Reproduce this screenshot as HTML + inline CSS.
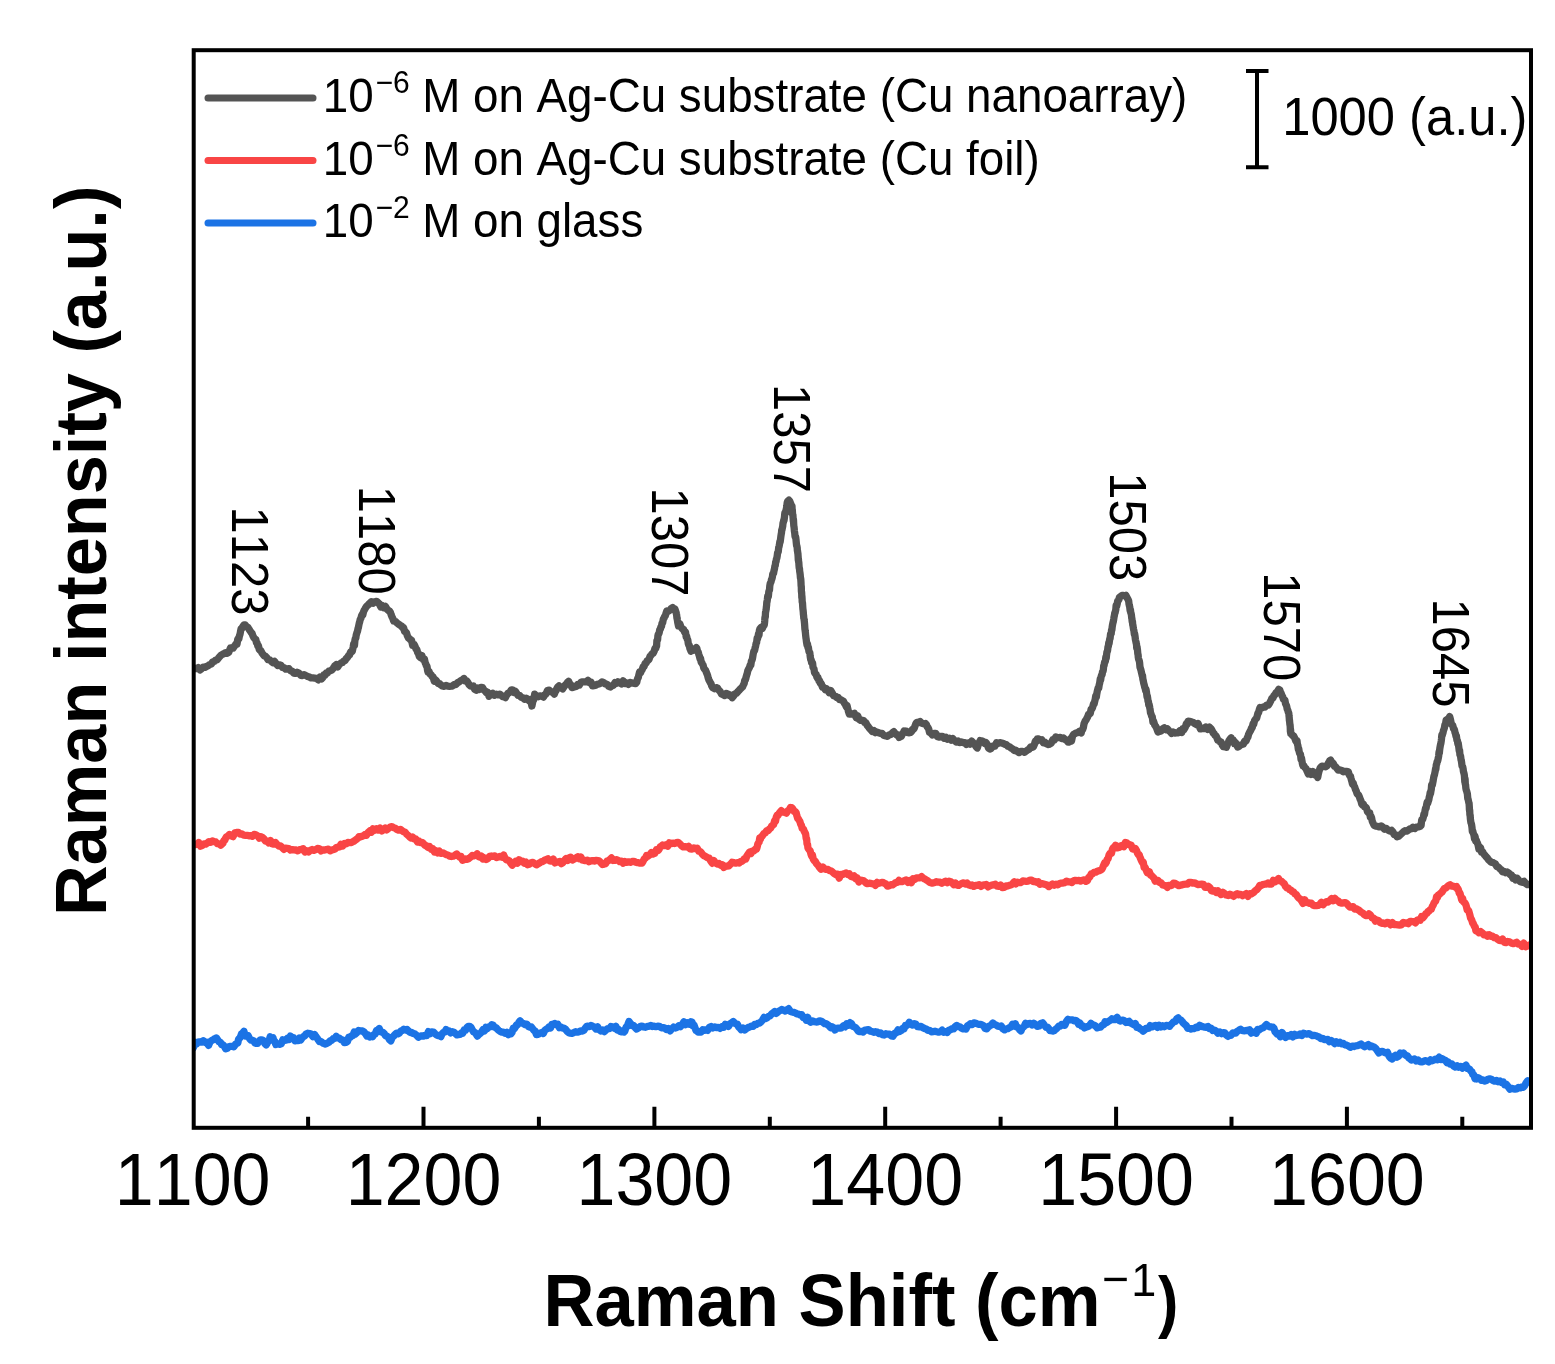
<!DOCTYPE html>
<html><head><meta charset="utf-8"><title>Raman spectra</title>
<style>
html,body{margin:0;padding:0;background:#fff;}
svg{display:block;filter:blur(0.45px);}
text{font-family:'Liberation Sans', Arial, sans-serif;fill:#000;font-kerning:none;}
</style></head><body>
<svg width="1555" height="1364" viewBox="0 0 1555 1364">
<rect width="1555" height="1364" fill="#fff"/>

<defs><clipPath id="pc"><rect x="193.7" y="50.2" width="1337.3" height="1077.6"/></clipPath></defs>
<g fill="none" stroke-width="7.3" stroke-linejoin="round" stroke-linecap="round" clip-path="url(#pc)">
<polyline stroke="#545454" points="193.0,667.6 194.7,668.5 196.5,668.6 198.2,667.6 199.9,669.9 201.6,668.7 203.2,667.1 204.8,667.4 206.5,666.5 208.1,665.7 209.7,664.6 211.2,664.1 212.7,661.9 214.2,661.4 215.7,660.1 217.0,659.9 218.4,658.2 219.7,656.7 221.1,655.1 222.4,654.4 224.0,653.7 225.6,652.7 227.2,653.3 228.8,652.2 230.4,648.0 232.0,648.0 233.1,648.2 234.1,646.4 235.1,645.5 236.0,643.9 237.0,644.1 237.7,639.6 238.2,638.5 238.8,639.0 239.4,636.0 240.0,634.3 240.5,631.6 241.1,628.8 241.7,628.8 242.4,627.2 243.9,624.9 245.3,625.0 246.6,626.9 247.9,627.4 249.1,629.4 250.2,631.0 251.2,632.5 252.1,633.5 253.0,636.1 254.0,637.9 254.9,638.9 255.8,639.4 256.4,642.5 257.1,643.1 257.8,646.0 258.5,645.9 259.2,649.3 259.9,650.1 260.7,650.6 261.9,652.8 263.1,654.5 264.3,656.0 265.5,656.3 266.7,657.5 268.1,659.7 269.7,659.9 271.3,661.4 272.9,662.7 274.5,661.3 276.1,663.8 277.7,665.5 279.4,664.9 281.0,665.3 282.6,667.5 284.2,667.8 285.8,669.2 287.4,668.9 289.0,668.7 290.6,670.7 292.2,671.2 293.8,673.1 295.4,673.4 297.1,672.3 298.9,673.1 300.7,675.3 302.4,675.5 304.2,674.6 306.0,675.6 307.7,676.5 309.4,677.0 311.1,677.9 312.9,677.9 314.6,678.1 316.3,678.3 318.1,679.8 319.9,677.1 321.5,678.9 322.7,677.7 323.8,675.0 325.0,675.2 326.2,673.0 327.4,673.1 328.9,671.1 330.3,670.7 331.7,670.1 333.2,668.3 334.6,666.1 336.2,664.7 337.8,666.8 339.4,664.3 341.0,663.0 342.4,662.6 343.7,661.0 345.0,660.7 346.2,658.7 347.5,657.4 348.7,655.4 349.6,654.9 350.5,652.0 351.4,652.0 352.3,651.2 353.2,646.9 353.6,644.3 354.1,645.3 354.5,645.3 354.9,640.4 355.3,638.4 355.8,638.3 356.2,635.3 356.6,633.8 357.1,632.2 357.5,631.3 358.0,628.7 358.4,627.5 358.8,625.4 359.3,623.0 359.7,621.8 360.2,619.5 360.8,618.6 361.5,616.0 362.2,614.3 362.8,614.9 363.5,611.9 364.2,610.2 364.9,609.1 366.1,606.9 367.2,605.7 368.3,604.9 369.5,603.4 371.3,601.8 373.1,603.3 374.9,601.7 376.6,601.3 378.0,602.5 379.4,604.1 380.8,607.0 382.2,605.6 383.8,607.6 385.4,606.4 387.0,609.1 388.6,610.7 389.6,611.1 390.4,612.4 391.2,614.8 392.0,616.8 392.8,618.4 393.7,621.2 394.5,621.2 395.7,621.7 397.2,623.1 398.7,624.2 400.2,625.3 401.7,626.2 402.7,627.9 403.6,627.7 404.6,631.5 405.5,631.8 406.5,632.8 407.4,635.9 408.5,638.0 409.5,638.7 410.5,639.9 411.6,640.4 412.6,645.3 413.6,645.0 414.4,644.8 415.2,646.7 416.0,649.1 416.8,649.3 417.6,652.4 418.4,653.5 419.3,656.5 420.6,657.6 421.9,655.5 423.1,659.3 424.4,659.1 425.3,663.1 425.8,663.9 426.4,666.0 427.0,666.2 427.6,670.5 428.1,672.4 428.9,671.2 430.0,674.0 431.0,674.5 432.1,676.5 433.1,676.9 434.2,681.2 435.5,679.8 436.9,681.6 438.3,683.5 439.6,683.6 441.0,685.2 442.4,686.0 444.2,686.4 446.0,685.4 447.8,686.1 449.6,686.3 451.4,686.2 452.9,685.7 454.5,684.4 456.0,684.5 457.6,682.6 459.2,681.9 460.8,680.7 462.4,680.0 464.0,678.5 465.3,681.0 466.6,680.8 467.9,682.5 469.1,684.7 470.5,685.9 471.9,686.3 473.3,686.0 474.7,689.4 476.1,690.2 477.8,688.0 479.4,689.3 481.1,687.3 482.5,687.6 483.8,689.9 485.1,691.0 486.4,692.6 487.6,692.2 489.0,696.2 490.8,694.1 492.6,693.2 494.4,695.2 496.2,694.2 498.0,694.8 499.8,694.1 501.3,695.3 502.7,696.7 504.2,696.9 505.4,697.6 506.6,695.2 507.8,693.4 509.0,692.9 510.1,691.9 511.3,689.9 512.6,689.9 514.0,692.4 515.4,691.4 516.7,693.3 518.1,695.4 519.5,695.3 521.1,697.3 522.8,697.8 524.5,699.3 526.2,698.3 527.8,699.2 529.4,701.0 530.7,699.7 531.9,706.0 532.7,702.0 533.2,700.2 533.7,699.9 534.2,697.4 534.7,694.1 536.4,696.4 538.2,696.8 540.0,695.8 541.8,696.2 543.5,697.1 544.7,694.7 545.6,694.4 546.6,692.6 547.5,690.3 549.2,690.2 550.9,691.8 552.6,691.8 554.3,694.1 555.2,691.8 556.0,690.8 556.8,688.6 557.6,687.1 559.0,685.8 560.8,687.5 562.6,688.9 564.1,686.7 565.2,685.1 566.3,684.0 567.5,682.3 568.6,681.4 569.7,683.6 570.8,684.6 571.9,687.6 573.1,687.4 574.7,686.8 576.2,686.4 577.8,684.4 579.3,685.1 580.9,682.3 582.7,681.8 584.4,681.9 586.2,681.9 588.0,680.4 589.5,682.7 591.0,682.2 592.5,685.9 594.0,685.6 595.5,685.4 597.1,684.4 598.7,684.0 600.4,683.4 602.0,681.9 603.7,682.6 605.3,683.9 607.0,684.3 608.7,686.2 610.4,687.1 612.0,685.7 613.5,685.2 615.0,682.6 616.5,683.3 618.0,681.8 619.7,682.5 621.5,684.0 623.2,680.9 624.9,683.6 626.7,682.9 628.5,684.4 630.3,682.4 632.0,682.9 633.8,683.3 635.6,683.5 636.8,682.1 637.3,679.6 637.8,678.1 638.3,677.6 638.8,675.1 639.6,672.0 640.5,672.7 641.4,670.7 642.2,669.6 643.1,666.9 644.1,666.5 645.1,663.3 646.1,663.2 647.1,660.8 648.1,660.3 649.1,659.2 650.1,656.1 651.1,655.2 652.1,653.8 653.1,653.3 654.1,651.4 655.1,648.1 655.9,648.1 656.2,646.6 656.6,646.0 656.9,640.8 657.2,640.1 657.6,640.0 657.9,635.8 658.3,634.2 658.7,634.0 659.2,632.7 659.8,629.5 660.4,628.9 660.9,626.8 661.5,626.3 662.0,623.3 662.7,622.5 663.3,619.1 664.0,618.1 664.6,616.5 665.3,615.9 665.9,613.7 666.8,611.0 668.3,611.3 669.8,610.3 671.2,608.5 672.7,607.5 673.8,608.9 674.9,609.0 676.0,612.1 676.4,613.9 676.6,614.7 676.9,617.9 677.1,617.8 677.4,620.3 677.7,622.2 678.5,625.9 679.8,623.9 681.0,627.1 682.3,628.8 683.6,629.5 684.4,631.8 685.0,631.6 685.5,632.1 686.1,636.6 686.7,636.5 687.2,639.0 687.8,639.9 688.3,643.7 688.8,645.2 689.3,645.5 689.9,648.7 690.4,649.7 690.9,651.2 692.2,650.7 693.6,649.3 694.9,648.9 696.3,647.5 696.9,648.6 697.5,651.5 698.1,651.8 698.8,654.3 699.4,656.1 700.0,658.7 700.6,658.6 701.2,662.3 701.8,662.6 702.4,664.0 703.1,665.2 703.8,668.0 704.5,669.2 705.3,669.8 706.0,671.4 706.8,673.5 707.5,675.1 708.3,678.3 709.0,680.2 709.7,681.4 710.3,682.6 711.0,683.6 711.6,685.7 712.7,687.6 714.5,688.7 716.3,687.6 717.4,687.9 718.4,689.6 719.4,690.7 720.4,691.9 721.4,693.9 722.8,694.6 724.6,695.6 726.3,693.4 728.0,694.1 729.4,695.6 730.8,695.2 732.2,697.7 733.6,696.0 735.0,693.8 736.3,693.3 737.7,691.9 739.0,690.4 740.2,689.1 741.3,688.0 742.5,686.9 743.7,684.3 744.2,683.4 744.7,680.3 745.2,680.2 745.7,678.8 746.2,676.7 746.7,675.0 747.2,673.6 747.8,670.8 748.4,669.4 749.0,668.4 749.6,667.2 750.2,664.9 750.8,665.2 751.4,661.1 751.9,660.4 752.4,658.9 752.9,655.9 753.3,653.5 753.8,651.4 754.3,650.9 754.7,650.0 755.2,647.5 755.7,645.7 756.1,643.5 756.6,642.6 757.1,638.4 757.5,638.8 758.0,636.9 758.5,633.9 759.0,635.3 759.4,630.4 759.9,628.9 761.1,627.5 762.4,628.3 763.7,625.3 764.2,625.1 764.5,623.2 764.7,621.1 764.9,617.9 765.1,616.8 765.3,617.1 765.5,612.6 765.8,611.2 766.0,610.0 766.2,609.1 766.4,606.8 766.6,605.5 766.8,602.1 767.0,602.1 767.3,600.0 767.7,596.3 768.0,597.3 768.4,596.2 768.8,591.7 769.1,590.7 769.5,590.1 769.8,585.8 770.2,583.6 770.7,582.5 771.1,581.4 771.5,579.6 771.9,578.9 772.4,576.9 772.8,573.8 773.2,573.6 773.6,573.1 774.0,570.7 774.5,568.8 774.9,566.1 775.3,565.3 775.7,561.7 776.1,561.5 776.4,559.0 776.8,558.3 777.2,556.0 777.6,552.8 778.0,552.2 778.3,551.4 778.7,547.5 779.1,546.3 779.5,544.3 779.8,541.9 780.1,542.3 780.3,540.9 780.6,538.6 780.9,536.3 781.2,534.3 781.5,532.8 781.7,530.1 782.0,529.8 782.3,528.2 782.7,526.3 783.0,523.2 783.4,522.0 783.8,520.0 784.1,520.0 784.5,516.8 784.8,513.2 785.2,513.5 785.6,513.1 786.0,510.2 786.4,508.7 786.8,506.1 787.2,502.6 787.8,501.1 788.9,500.1 789.8,501.4 790.6,503.4 791.4,505.4 792.0,506.1 792.1,509.1 792.3,509.8 792.4,511.2 792.6,514.4 792.7,514.6 792.9,514.7 793.1,518.0 793.3,520.9 793.5,519.8 793.7,524.0 793.8,525.8 794.0,526.7 794.2,528.4 794.4,531.1 794.7,532.8 795.0,536.2 795.3,537.2 795.7,537.2 796.0,539.6 796.3,542.8 796.6,545.6 796.9,546.0 797.2,547.8 797.4,550.9 797.6,551.0 797.7,552.6 797.9,553.4 798.1,556.0 798.3,560.2 798.4,558.7 798.6,561.8 798.8,562.3 799.0,565.5 799.2,568.0 799.5,568.7 799.7,571.4 800.0,573.2 800.2,574.7 800.4,577.6 800.7,578.6 800.8,579.4 800.9,580.9 801.0,582.5 801.1,585.5 801.3,586.6 801.4,591.1 801.5,592.1 801.6,592.1 801.7,593.7 801.8,597.4 801.9,595.9 802.1,599.0 802.2,602.1 802.4,602.2 802.6,604.4 802.7,606.3 802.9,609.0 803.1,610.3 803.3,612.3 803.4,614.3 803.6,615.6 803.8,618.4 804.0,618.5 804.1,619.6 804.3,621.1 804.5,623.1 804.7,625.8 804.9,629.0 805.1,630.0 805.2,631.1 805.4,632.5 805.6,634.8 805.8,636.7 806.0,638.3 806.2,639.3 806.5,642.0 807.0,645.0 807.5,643.9 807.9,647.4 808.4,647.4 808.9,651.3 809.3,652.2 809.8,652.7 810.2,656.4 810.7,659.7 811.2,659.9 811.6,662.6 812.1,663.2 812.6,663.1 813.0,667.2 813.5,668.1 814.0,668.9 814.5,672.6 815.3,673.8 816.2,674.6 817.0,677.5 817.9,677.5 818.7,680.5 819.6,680.6 820.4,683.5 821.3,683.6 822.5,687.3 823.8,687.4 825.2,689.6 826.5,688.8 827.9,690.3 829.2,692.7 830.7,690.5 832.2,692.9 833.7,695.8 835.3,696.2 836.8,697.6 838.3,697.5 839.5,699.6 840.8,699.7 842.1,700.4 843.4,701.3 844.6,703.6 845.6,705.1 846.3,706.7 847.1,705.7 847.8,708.8 848.5,711.7 849.3,714.1 851.0,713.9 852.7,714.1 854.4,713.3 856.2,717.7 857.7,715.8 859.1,719.4 860.6,720.3 862.1,720.2 863.5,720.5 864.7,722.5 865.9,722.7 867.1,725.3 868.2,726.5 869.4,728.3 870.8,729.8 872.3,731.4 873.9,730.5 875.4,732.7 876.9,732.0 878.5,732.7 880.3,733.3 882.0,733.3 883.8,735.5 885.6,735.8 887.3,736.4 889.0,735.1 890.6,734.6 892.2,733.0 893.9,731.7 895.3,733.6 896.5,734.7 897.8,734.7 899.1,737.5 900.3,736.6 901.3,736.4 902.2,734.5 903.2,733.1 904.1,731.0 905.1,731.3 906.3,731.1 907.8,732.7 909.2,732.8 910.6,732.4 911.5,731.7 912.4,729.4 913.3,729.3 914.2,728.4 915.0,726.0 915.9,723.6 916.8,722.3 918.3,722.6 920.1,721.5 921.8,723.3 923.6,723.8 925.4,723.5 926.5,724.7 927.3,726.9 928.0,727.6 928.8,729.3 929.5,732.3 930.8,733.0 932.4,735.0 934.1,733.3 935.8,733.3 937.4,736.5 939.1,737.2 940.7,736.3 942.4,736.3 944.1,738.2 945.8,737.3 947.5,739.2 949.2,738.2 951.0,740.1 952.7,738.5 954.5,740.4 956.3,742.1 958.0,741.0 959.7,742.6 961.4,742.0 963.0,742.5 964.7,742.6 966.4,744.4 968.2,743.0 969.9,744.1 971.7,741.2 973.2,742.6 974.5,744.1 975.9,746.5 977.3,748.0 978.3,744.7 979.2,742.7 980.1,740.6 981.0,741.8 982.2,741.0 983.5,741.7 984.7,743.5 986.0,742.6 987.3,744.6 988.5,748.2 989.8,749.0 991.1,748.5 992.4,746.2 993.6,746.3 994.9,746.1 996.5,742.7 998.2,743.4 1000.0,742.7 1001.7,743.0 1003.3,743.5 1004.8,744.3 1006.4,744.6 1007.9,746.3 1009.5,746.7 1011.0,748.0 1012.6,748.9 1014.2,750.5 1015.7,750.2 1017.3,751.4 1019.1,752.6 1020.9,751.5 1022.7,751.4 1024.5,752.4 1026.1,751.2 1027.6,750.0 1029.1,749.2 1030.6,746.9 1032.1,747.4 1033.3,746.9 1034.3,744.8 1035.3,741.3 1036.3,741.5 1037.3,738.9 1038.6,739.0 1040.2,740.1 1041.8,739.7 1043.4,742.8 1045.0,742.3 1046.6,743.9 1048.3,744.5 1049.8,744.1 1051.3,743.0 1052.8,739.6 1054.3,740.0 1055.8,737.0 1057.3,737.6 1058.8,737.6 1060.3,737.4 1061.8,738.6 1063.4,738.0 1065.0,739.5 1066.5,740.2 1068.1,742.1 1069.4,742.0 1070.4,738.8 1071.5,741.0 1072.5,736.2 1073.6,734.4 1074.6,733.8 1076.0,733.0 1077.7,732.6 1079.5,731.3 1081.2,732.9 1081.9,730.0 1082.6,729.6 1083.3,727.8 1084.0,723.8 1084.6,722.4 1085.3,720.7 1086.0,720.2 1086.8,718.3 1087.6,717.0 1088.5,714.4 1089.4,714.0 1090.3,713.3 1091.1,709.2 1092.0,708.7 1092.6,707.4 1093.1,705.3 1093.6,703.5 1094.2,703.6 1094.7,701.4 1095.2,699.3 1095.7,696.1 1096.3,697.1 1096.8,693.7 1097.3,691.1 1097.7,689.6 1098.2,687.7 1098.7,688.3 1099.2,684.9 1099.7,683.0 1100.2,679.3 1100.6,680.2 1101.1,676.8 1101.6,675.0 1102.1,674.8 1102.5,671.8 1102.9,671.5 1103.3,670.0 1103.7,665.7 1104.1,665.4 1104.5,662.4 1105.0,662.0 1105.4,661.1 1105.8,657.3 1106.2,658.4 1106.6,654.7 1106.9,652.2 1107.3,651.4 1107.6,650.4 1108.0,646.7 1108.4,646.2 1108.7,643.2 1109.1,643.7 1109.4,641.0 1109.8,638.7 1110.1,638.3 1110.5,634.4 1110.8,633.5 1111.2,633.7 1111.5,630.2 1111.9,629.8 1112.2,626.9 1112.6,624.4 1112.9,623.0 1113.3,621.5 1113.7,619.3 1114.0,617.2 1114.4,615.5 1114.7,613.1 1115.1,612.7 1115.4,611.2 1115.8,609.8 1116.1,605.7 1116.6,606.3 1117.2,603.9 1117.7,600.9 1118.3,600.6 1118.9,599.5 1119.4,597.5 1120.6,596.4 1122.0,595.4 1123.3,595.4 1124.5,595.8 1125.8,595.3 1127.1,597.7 1128.3,600.0 1128.7,601.1 1129.0,603.9 1129.4,605.7 1129.7,606.8 1130.1,610.2 1130.4,609.4 1130.8,612.9 1131.1,613.4 1131.4,614.9 1131.7,617.9 1131.9,618.6 1132.2,621.7 1132.5,621.7 1132.7,624.6 1133.0,625.6 1133.3,627.9 1133.6,629.5 1133.9,630.6 1134.3,634.0 1134.7,634.0 1135.0,636.0 1135.4,639.5 1135.8,641.3 1136.1,642.8 1136.5,644.3 1136.7,647.8 1137.0,646.5 1137.3,648.7 1137.5,650.2 1137.8,653.7 1138.1,654.9 1138.3,657.4 1138.6,659.1 1138.9,659.8 1139.3,661.0 1139.6,662.6 1140.0,667.3 1140.3,667.9 1140.7,669.4 1141.0,670.3 1141.4,672.2 1141.8,673.8 1142.2,675.6 1142.5,675.5 1142.9,679.3 1143.3,680.8 1143.7,683.2 1144.2,684.8 1144.7,687.1 1145.1,688.1 1145.6,690.6 1146.0,689.3 1146.5,692.3 1147.0,696.6 1147.3,695.7 1147.7,698.4 1148.0,701.0 1148.4,701.3 1148.7,704.6 1149.1,704.4 1149.4,705.7 1149.8,708.0 1150.1,709.5 1150.5,712.7 1151.1,714.1 1151.7,716.4 1152.3,716.9 1152.9,721.8 1153.5,721.1 1154.1,722.9 1154.7,725.0 1155.5,726.0 1156.3,727.3 1157.1,729.5 1158.0,731.9 1159.3,731.5 1161.0,731.0 1162.6,728.8 1164.2,727.8 1165.8,729.7 1167.2,728.7 1168.7,730.4 1170.2,731.7 1171.6,733.4 1173.1,732.0 1174.7,733.1 1176.5,732.9 1178.3,732.8 1180.0,730.6 1181.8,732.4 1182.8,728.6 1183.7,729.8 1184.6,728.5 1185.4,727.0 1186.3,723.8 1187.2,724.1 1188.1,721.2 1189.9,721.3 1191.6,722.0 1193.4,722.5 1195.1,723.9 1196.9,724.9 1198.1,723.5 1199.2,726.3 1200.4,728.9 1202.2,728.4 1204.0,728.7 1205.8,727.0 1207.6,729.3 1209.4,727.1 1211.2,728.8 1212.3,731.0 1213.2,733.1 1214.0,733.4 1214.9,735.3 1215.8,735.6 1216.7,737.2 1217.8,740.2 1218.9,740.5 1220.0,741.8 1221.1,742.1 1222.2,744.9 1223.4,746.7 1224.5,746.8 1225.5,746.9 1226.4,747.2 1227.4,744.4 1228.3,742.5 1229.2,740.2 1230.1,739.1 1231.1,737.9 1232.2,740.4 1233.3,740.0 1234.4,743.6 1235.5,742.6 1236.6,744.5 1237.7,747.0 1238.9,746.6 1240.3,745.1 1241.8,744.6 1243.3,744.1 1244.7,741.1 1245.9,741.1 1246.6,739.6 1247.3,737.7 1247.9,737.0 1248.6,734.2 1249.3,732.7 1250.0,731.4 1250.7,730.4 1251.5,727.9 1252.2,727.8 1253.0,724.0 1253.7,724.3 1254.5,720.8 1255.2,719.7 1256.0,718.6 1256.6,718.4 1257.3,715.7 1258.0,712.9 1258.6,712.7 1259.3,709.7 1260.0,707.5 1261.6,707.9 1263.3,707.0 1264.9,707.1 1266.6,705.1 1268.3,705.2 1269.2,703.9 1270.1,702.1 1271.0,700.3 1272.0,698.1 1272.9,698.0 1273.8,695.8 1274.9,694.7 1276.1,692.6 1277.4,691.6 1278.7,689.4 1279.8,690.1 1280.5,692.4 1281.2,693.4 1282.0,695.7 1282.7,696.9 1283.5,699.5 1284.2,699.7 1284.9,700.1 1285.5,703.6 1286.1,704.8 1286.6,705.8 1287.2,709.0 1287.8,710.3 1288.3,712.2 1288.8,713.2 1289.0,715.5 1289.2,717.3 1289.4,720.5 1289.5,720.1 1289.7,722.5 1289.9,724.6 1290.0,724.5 1290.2,726.4 1290.4,731.6 1290.6,729.8 1290.7,733.7 1291.5,734.0 1292.6,735.5 1293.7,735.9 1294.8,738.3 1295.9,741.2 1297.0,740.7 1297.4,744.2 1297.9,745.7 1298.3,749.0 1298.7,748.5 1299.2,751.8 1299.6,753.2 1300.0,753.9 1300.5,754.4 1301.0,759.0 1301.5,758.2 1301.9,760.7 1302.4,763.6 1302.9,765.6 1303.6,765.4 1304.8,767.5 1306.0,768.7 1307.1,771.3 1308.3,773.9 1309.5,771.3 1311.2,774.4 1312.9,771.7 1314.6,774.9 1316.3,774.5 1317.7,777.4 1318.3,774.1 1318.9,771.6 1319.4,770.1 1320.0,768.3 1320.6,767.3 1322.0,766.2 1323.8,766.4 1325.5,766.8 1327.2,765.5 1328.6,762.7 1329.6,760.9 1330.7,760.2 1331.7,762.5 1332.6,762.8 1333.6,764.1 1334.5,766.3 1335.4,766.5 1336.6,768.0 1338.3,770.1 1340.0,770.0 1341.7,770.5 1343.4,771.8 1345.1,771.4 1346.9,771.3 1348.4,771.9 1349.1,774.6 1349.8,775.7 1350.5,776.3 1351.1,778.7 1351.8,781.2 1352.5,784.0 1353.2,783.0 1354.0,785.9 1354.7,787.0 1355.5,789.6 1356.2,790.9 1357.0,793.5 1357.7,794.3 1358.5,795.0 1359.3,796.6 1360.1,799.0 1360.9,800.6 1361.7,804.0 1362.5,805.0 1363.3,804.0 1364.3,806.9 1365.4,806.9 1366.4,808.0 1367.5,811.6 1368.6,812.9 1369.7,812.9 1370.3,817.0 1371.0,816.3 1371.6,817.8 1372.2,821.1 1372.8,822.5 1373.4,823.8 1374.2,825.4 1376.0,826.2 1377.7,826.4 1379.4,826.9 1381.1,825.9 1382.8,827.0 1384.5,829.2 1386.3,828.5 1388.0,830.1 1389.8,831.1 1391.5,830.2 1392.9,831.9 1394.2,834.7 1395.6,834.6 1397.0,836.8 1398.6,836.3 1400.2,834.8 1401.8,833.3 1403.4,831.8 1405.0,830.7 1406.5,831.2 1408.1,830.3 1409.7,828.9 1411.2,828.9 1413.0,827.2 1414.8,828.5 1416.5,827.2 1418.3,826.9 1420.0,826.5 1420.5,824.7 1421.1,825.3 1421.7,819.9 1422.2,819.8 1422.8,819.1 1423.4,816.9 1423.9,814.3 1424.5,814.4 1425.1,810.2 1425.6,808.2 1426.1,808.2 1426.6,804.7 1427.2,802.1 1427.7,803.3 1428.2,801.5 1428.8,799.8 1429.3,796.9 1429.7,795.8 1430.1,793.0 1430.5,793.7 1430.9,791.1 1431.3,789.3 1431.6,785.1 1432.0,785.8 1432.4,784.7 1432.8,782.6 1433.2,780.5 1433.6,778.0 1434.0,776.0 1434.4,775.1 1434.8,773.1 1435.2,771.2 1435.5,769.0 1435.9,769.0 1436.3,764.7 1436.7,764.0 1437.1,761.7 1437.5,761.4 1437.9,760.0 1438.3,758.1 1438.7,755.9 1439.0,752.2 1439.3,753.5 1439.6,750.3 1439.9,748.0 1440.2,746.3 1440.6,744.3 1440.9,743.2 1441.2,741.3 1441.5,738.9 1441.8,735.2 1442.1,735.7 1442.5,734.4 1443.0,732.7 1443.5,730.3 1444.0,729.1 1444.4,727.9 1444.9,724.8 1445.4,724.8 1446.1,720.2 1447.3,719.5 1448.6,718.5 1449.7,716.6 1450.5,719.6 1451.2,723.2 1452.0,724.9 1452.8,725.5 1453.5,728.6 1454.1,728.9 1454.5,730.0 1455.0,732.4 1455.5,733.8 1456.0,736.3 1456.4,736.0 1456.9,740.0 1457.4,740.5 1457.8,743.4 1458.2,743.0 1458.6,745.8 1458.9,748.0 1459.2,750.5 1459.6,750.3 1459.9,754.7 1460.3,755.4 1460.6,756.3 1461.0,759.6 1461.3,760.4 1461.7,763.1 1462.0,765.9 1462.4,766.3 1462.7,766.9 1463.1,768.7 1463.4,771.4 1463.8,772.9 1464.1,773.7 1464.4,775.6 1464.6,778.6 1464.8,781.9 1465.1,779.2 1465.3,784.0 1465.6,784.9 1465.8,787.6 1466.1,789.5 1466.4,790.5 1466.7,791.3 1467.1,792.7 1467.4,794.1 1467.8,798.6 1468.1,799.1 1468.4,800.6 1468.8,802.6 1469.1,803.4 1469.3,806.6 1469.4,809.4 1469.6,811.0 1469.7,810.3 1469.9,814.8 1470.0,814.7 1470.2,815.4 1470.3,817.8 1470.5,819.8 1470.9,822.5 1471.2,823.3 1471.6,824.7 1472.0,827.5 1472.3,831.3 1472.7,830.7 1473.3,833.4 1473.9,834.8 1474.5,838.8 1475.1,836.4 1475.7,840.8 1476.3,840.3 1477.1,842.6 1478.0,844.6 1478.9,849.1 1479.7,847.1 1480.6,847.7 1481.5,852.1 1482.5,851.7 1483.6,853.6 1484.8,855.2 1486.0,856.6 1487.2,857.8 1488.3,859.5 1489.7,860.8 1491.1,862.3 1492.5,862.3 1494.0,863.1 1495.4,863.9 1496.8,866.5 1498.2,867.0 1499.7,868.6 1501.1,869.7 1502.5,871.8 1504.1,871.5 1505.6,872.8 1507.2,872.0 1508.7,873.0 1510.2,874.7 1511.5,875.1 1512.9,878.1 1514.2,877.5 1515.6,879.8 1517.2,878.3 1518.9,880.3 1520.5,881.8 1522.2,882.3 1524.0,881.3 1525.7,883.4 1527.5,884.6 1529.2,884.7 1531.0,883.9"/>
<polyline stroke="#F94545" points="193.3,845.3 195.1,844.5 196.9,844.4 198.7,842.5 200.5,846.2 202.3,845.4 204.0,843.8 205.7,844.1 207.4,843.0 209.0,841.6 210.7,842.3 212.4,841.0 214.1,841.7 215.7,841.9 217.4,843.7 219.1,843.9 220.7,845.2 222.1,844.0 223.0,843.1 223.8,840.6 224.7,840.5 225.5,838.4 226.4,836.9 227.8,836.1 229.5,834.5 231.3,835.8 233.1,836.6 234.8,832.9 236.6,832.5 238.4,832.4 240.2,834.2 241.9,833.9 243.6,835.2 245.4,835.3 247.1,835.3 248.9,835.8 250.6,835.7 252.4,836.4 254.2,834.4 256.0,834.8 257.7,835.8 259.2,838.1 260.8,836.7 262.3,837.3 263.9,838.7 265.4,841.0 267.0,840.8 268.7,842.8 270.4,840.5 272.1,843.7 273.8,844.2 275.5,842.6 277.2,844.6 278.9,846.2 280.5,845.9 282.2,847.5 283.9,849.4 285.5,848.2 287.2,848.4 288.8,848.6 290.6,850.1 292.4,849.6 294.2,849.8 296.0,850.0 297.8,850.9 299.6,849.6 301.4,849.4 303.2,848.7 305.0,852.0 306.7,850.8 308.5,851.9 310.3,850.3 312.1,849.5 313.9,850.4 315.7,849.7 317.5,848.5 319.3,848.6 321.1,850.9 322.9,849.8 324.7,850.0 326.5,849.5 328.3,849.2 330.1,850.8 331.9,850.0 333.7,849.5 335.1,849.1 336.5,847.3 338.0,847.2 339.4,846.9 340.9,844.2 342.7,845.9 344.4,843.5 346.2,843.8 347.9,842.5 349.7,842.6 351.4,842.5 353.2,841.6 354.7,840.6 356.2,839.5 357.7,838.4 359.1,836.6 360.6,836.8 362.1,836.3 363.5,835.7 365.0,834.4 366.5,835.2 368.1,832.4 369.8,830.9 371.4,832.2 373.0,828.8 374.7,830.2 376.5,828.7 378.3,830.0 380.1,828.1 381.9,830.9 383.6,829.5 385.2,828.1 386.9,829.8 388.6,828.3 390.2,827.0 391.9,826.6 393.7,827.8 395.4,828.2 397.1,829.6 398.8,830.2 400.5,829.4 402.0,830.6 403.4,831.7 404.9,832.0 406.3,833.8 407.8,835.2 409.4,836.7 411.0,838.1 412.6,837.0 414.2,839.0 415.8,838.9 417.5,842.0 418.9,841.1 420.4,842.6 421.9,842.3 423.4,843.4 424.9,845.3 426.4,845.8 428.0,847.4 429.6,846.5 431.2,849.3 432.8,848.7 434.4,851.9 436.0,850.8 437.6,852.9 439.3,851.2 441.1,853.4 442.8,852.8 444.5,853.7 446.2,854.7 447.9,855.0 449.6,856.1 451.4,856.5 453.2,856.2 454.9,855.3 456.7,854.0 458.2,855.6 459.6,857.2 461.1,856.5 462.5,860.2 464.0,859.7 465.7,859.0 467.3,859.3 469.0,858.4 470.6,857.2 472.3,855.4 473.9,855.9 475.6,855.2 477.1,853.8 478.6,856.6 480.0,857.2 481.4,856.1 482.9,859.0 484.5,857.9 486.2,859.5 487.9,858.6 489.6,856.3 491.3,856.0 493.0,856.3 494.8,855.9 496.6,857.6 498.3,857.1 500.1,856.3 501.9,857.2 503.7,855.1 505.1,858.3 506.5,860.0 507.9,860.2 509.3,860.8 510.7,863.1 512.2,865.2 513.9,863.1 515.6,861.4 517.4,863.2 519.1,859.7 520.8,861.6 522.5,861.2 524.2,863.2 525.9,862.1 527.6,864.7 529.3,864.3 531.1,862.8 532.9,862.3 534.6,863.6 536.4,864.9 538.2,863.7 539.8,862.8 541.4,861.6 542.9,861.5 544.4,860.3 546.1,859.7 547.9,858.8 549.7,860.9 551.4,861.2 553.2,859.0 554.9,862.9 556.5,862.2 558.1,861.9 559.7,861.5 561.3,863.6 562.9,862.6 564.4,860.6 566.0,858.6 567.6,860.4 569.1,857.9 570.7,857.2 572.5,860.0 574.3,859.1 576.1,857.8 577.7,856.8 579.3,858.7 580.8,857.0 582.4,860.1 583.9,860.2 585.4,860.7 587.2,860.1 589.0,861.7 590.7,860.9 592.5,860.6 594.2,861.1 595.9,860.3 597.6,860.6 599.2,860.9 600.9,862.8 602.5,864.5 604.2,864.1 605.6,863.7 607.1,861.1 608.6,860.7 610.0,859.3 611.5,857.9 613.1,860.5 614.7,860.3 616.4,859.6 618.1,860.3 619.7,861.6 621.4,861.1 623.1,863.1 624.9,861.5 626.7,862.4 628.5,861.8 630.3,862.3 632.1,861.5 633.9,861.4 635.7,862.2 637.5,862.6 639.3,863.1 640.9,863.2 642.0,863.1 643.2,861.1 644.3,858.7 645.4,858.2 646.6,855.5 647.9,856.3 649.6,854.9 651.3,852.6 653.0,854.0 654.7,853.4 656.4,849.7 657.9,850.6 659.1,849.4 660.2,846.8 661.4,846.2 662.7,845.0 664.3,845.7 666.0,844.8 667.7,846.2 669.3,842.8 671.0,843.7 672.8,843.1 674.6,843.6 676.3,842.7 678.1,842.4 679.8,843.8 681.6,845.7 683.3,846.9 685.0,846.6 686.8,847.0 688.5,846.3 690.2,848.9 692.0,849.2 693.7,847.9 695.5,848.7 697.2,848.2 698.8,851.2 700.0,851.5 701.2,852.4 702.4,854.2 703.7,855.6 704.9,856.1 706.1,856.7 707.5,857.7 709.1,858.1 710.7,860.9 712.3,863.3 713.9,860.6 715.6,863.0 717.2,864.0 718.9,863.4 720.5,865.2 722.2,864.7 723.9,867.5 725.5,866.2 727.2,866.1 728.8,865.9 730.5,864.2 732.1,862.2 733.8,862.6 735.4,863.2 737.2,862.6 739.0,863.1 740.6,861.5 741.8,861.3 743.1,860.5 744.4,858.6 745.7,859.1 746.9,855.9 748.2,853.9 749.6,852.1 750.9,853.5 752.3,851.2 753.7,851.0 755.1,849.4 756.5,849.3 757.1,847.3 757.8,844.1 758.4,843.0 759.1,842.1 759.7,838.3 760.4,839.1 761.0,837.2 762.4,835.8 763.8,833.6 765.2,833.0 766.7,830.6 768.1,830.6 769.5,828.9 770.6,828.1 771.6,826.1 772.6,825.3 773.6,824.6 774.6,820.8 775.5,821.3 776.3,817.0 777.1,815.3 777.9,815.5 778.7,814.0 779.5,812.8 781.2,810.7 783.0,812.1 784.8,812.3 786.5,813.1 787.8,810.7 789.2,810.0 790.5,807.5 791.8,807.7 792.9,808.9 794.0,811.4 795.1,811.3 796.2,812.9 796.9,815.8 797.7,818.5 798.4,818.9 799.2,820.4 799.9,821.5 800.7,824.4 801.5,825.5 802.1,828.3 802.8,828.7 803.5,829.2 804.2,831.2 804.9,832.5 805.6,833.9 806.1,837.9 806.4,839.2 806.7,839.2 807.0,843.7 807.3,844.1 807.6,844.8 807.9,847.7 808.6,849.0 809.3,850.0 810.1,850.6 810.9,854.0 811.6,855.9 812.4,854.9 813.3,859.3 814.3,860.8 815.3,861.3 816.3,863.4 817.3,864.5 818.3,865.5 819.4,867.3 821.1,869.2 822.9,867.0 824.7,868.9 826.4,869.4 827.9,869.5 829.5,870.7 831.0,870.8 832.6,872.1 834.2,873.6 835.9,874.6 837.6,874.1 839.2,878.1 841.0,874.4 842.7,874.5 844.4,873.6 846.1,873.0 847.8,874.5 849.4,873.8 850.9,876.3 852.5,877.0 854.1,875.9 855.7,878.7 857.2,878.0 858.8,882.0 860.3,880.1 861.9,880.5 863.4,880.6 865.0,882.0 866.5,883.6 868.2,883.5 870.0,883.2 871.8,883.6 873.6,883.9 875.4,885.3 877.2,882.4 879.0,883.3 880.8,882.8 882.6,882.3 884.3,883.2 886.0,884.1 887.6,886.2 889.3,885.8 890.9,884.7 892.5,884.9 894.1,883.8 895.8,882.5 897.4,882.3 899.0,880.4 900.8,881.7 902.6,881.5 904.4,880.7 906.2,880.0 907.9,882.3 909.7,880.5 911.4,882.6 913.1,878.7 914.8,879.5 916.5,877.8 918.3,877.9 920.0,877.9 921.6,876.6 923.2,878.1 924.8,879.1 926.4,879.9 928.1,881.1 929.7,882.3 931.3,883.0 932.9,883.0 934.7,882.5 936.5,881.7 938.3,882.1 940.1,882.2 941.9,883.2 943.7,882.1 945.5,881.1 947.3,882.7 949.1,881.2 950.8,881.7 952.3,883.1 953.8,884.7 955.4,883.0 956.9,884.9 958.6,885.4 960.3,884.3 962.0,883.2 963.6,882.8 965.3,884.0 967.0,883.0 968.7,884.8 970.3,885.5 972.0,885.0 973.7,886.4 975.5,885.5 977.3,885.3 979.1,884.7 980.9,886.4 982.7,885.2 984.5,885.0 986.3,884.4 988.1,886.9 989.9,885.9 991.7,885.2 993.5,884.9 995.3,884.3 997.1,886.2 998.8,886.3 1000.6,885.0 1002.4,887.5 1004.2,887.3 1006.0,885.9 1007.7,886.0 1009.3,885.3 1010.9,885.0 1012.5,883.9 1014.2,881.8 1015.8,883.8 1017.4,882.1 1019.2,882.7 1021.0,882.5 1022.8,881.0 1024.6,881.2 1026.4,881.4 1028.1,881.2 1029.9,880.1 1031.6,880.2 1033.3,881.5 1034.9,881.4 1036.6,882.3 1038.3,881.7 1039.9,884.3 1041.7,883.6 1043.5,884.1 1045.3,884.6 1047.1,885.1 1048.9,886.6 1050.7,885.2 1052.5,883.9 1054.3,885.2 1056.0,884.2 1057.8,884.8 1059.6,883.5 1061.3,883.1 1063.1,883.0 1064.9,882.6 1066.6,881.1 1068.4,881.8 1070.1,881.9 1071.9,882.6 1073.6,880.8 1075.4,880.3 1077.1,880.7 1078.9,880.3 1080.6,881.0 1082.4,880.3 1084.2,879.9 1086.0,881.4 1087.4,880.6 1088.7,877.5 1089.9,876.8 1091.2,873.9 1092.5,873.8 1094.0,872.4 1095.7,872.2 1097.3,871.3 1098.9,870.8 1100.6,870.1 1101.8,869.4 1102.7,867.6 1103.6,865.3 1104.5,863.1 1105.4,863.8 1106.3,862.4 1107.2,859.2 1108.1,858.6 1109.0,855.1 1109.9,853.5 1110.7,853.1 1111.5,853.1 1112.4,849.2 1113.2,847.8 1114.0,848.4 1115.6,845.2 1117.4,847.8 1119.1,847.5 1120.7,846.0 1122.2,845.4 1123.8,846.7 1125.3,842.4 1126.9,843.0 1128.3,844.2 1129.7,844.8 1131.2,845.3 1132.6,849.1 1133.9,849.1 1135.3,848.5 1136.6,850.6 1137.5,853.2 1138.4,854.8 1139.2,854.7 1140.1,857.5 1140.9,859.4 1141.7,861.1 1142.5,862.8 1143.3,862.4 1144.1,867.3 1145.1,867.3 1146.2,870.2 1147.2,872.6 1148.3,871.3 1149.4,871.8 1150.5,875.1 1151.6,875.6 1152.7,876.8 1153.8,877.7 1155.2,881.2 1156.6,880.4 1158.1,880.5 1159.6,882.4 1161.1,882.8 1162.6,884.9 1164.2,885.3 1165.7,885.6 1167.3,887.4 1168.8,885.4 1170.4,885.7 1171.9,885.3 1173.5,883.2 1175.3,883.4 1177.0,884.6 1178.7,885.7 1180.5,885.2 1182.2,884.9 1184.0,884.3 1185.7,884.2 1187.5,884.1 1189.2,882.4 1191.0,882.3 1192.7,883.1 1194.5,882.8 1196.3,883.8 1198.1,884.5 1199.8,884.3 1201.6,884.1 1203.4,884.3 1205.0,887.3 1206.6,887.3 1208.2,886.3 1209.8,887.4 1211.4,890.7 1213.0,891.1 1214.7,890.7 1216.3,892.4 1217.9,890.8 1219.5,893.0 1221.1,894.5 1222.8,892.4 1224.6,893.6 1226.4,895.1 1228.2,895.6 1230.0,894.2 1231.8,895.1 1233.6,896.4 1235.4,894.7 1237.2,893.7 1239.0,894.8 1240.8,894.3 1242.6,895.7 1244.4,894.6 1246.2,893.6 1248.0,896.4 1249.8,893.6 1251.4,893.9 1252.8,893.0 1254.2,892.0 1255.6,890.3 1257.0,889.5 1258.4,887.8 1259.8,885.5 1261.2,885.4 1262.8,884.6 1264.5,884.2 1266.3,884.1 1268.0,882.9 1269.8,884.2 1271.5,884.0 1273.3,880.2 1275.0,881.8 1276.8,880.7 1278.5,878.5 1280.2,881.0 1281.5,881.3 1282.9,882.7 1284.2,883.7 1285.6,886.5 1286.9,887.8 1288.3,888.1 1289.6,889.7 1290.9,890.2 1292.3,891.6 1293.6,892.0 1294.9,893.9 1296.3,894.5 1297.6,896.7 1298.9,898.3 1300.3,899.0 1301.6,901.0 1303.0,903.4 1304.7,899.8 1306.4,902.4 1308.0,902.6 1309.7,903.4 1311.3,903.2 1313.0,905.2 1314.7,905.6 1316.3,905.7 1318.0,905.4 1319.7,904.5 1321.4,902.3 1323.1,904.7 1324.8,902.8 1326.4,901.6 1328.1,902.1 1329.8,900.6 1331.5,898.6 1333.2,900.7 1334.9,898.4 1336.6,900.3 1338.3,901.1 1340.0,902.8 1341.7,903.2 1343.4,902.9 1345.1,902.6 1346.8,903.5 1348.5,905.6 1350.0,907.1 1351.6,906.9 1353.2,906.7 1354.7,909.1 1356.3,908.7 1357.9,909.6 1359.4,910.6 1361.0,912.2 1362.6,912.8 1364.1,914.4 1365.7,915.5 1367.3,915.6 1368.9,913.9 1370.5,915.2 1372.1,917.7 1373.8,918.3 1375.4,921.1 1377.0,920.0 1378.6,920.7 1380.2,922.5 1381.8,923.4 1383.4,923.0 1385.2,923.8 1387.0,922.5 1388.8,922.7 1390.6,924.8 1392.4,922.5 1394.2,924.7 1396.0,924.6 1397.8,924.8 1399.6,925.0 1401.4,924.8 1403.2,922.4 1404.9,923.1 1406.6,922.9 1408.3,923.7 1410.0,921.3 1411.8,921.5 1413.6,921.6 1415.4,922.9 1417.2,920.2 1418.8,919.6 1420.2,920.2 1421.6,916.6 1423.0,917.7 1424.4,915.9 1425.8,913.8 1427.0,913.4 1428.0,911.5 1429.1,911.1 1430.1,909.8 1431.2,909.3 1432.3,906.5 1433.2,905.1 1434.0,902.9 1434.8,901.8 1435.7,901.2 1436.5,896.9 1437.4,897.6 1438.3,895.0 1439.5,894.2 1440.7,893.1 1441.9,892.2 1443.1,890.3 1444.4,888.5 1445.8,888.1 1447.3,886.7 1448.7,885.4 1450.1,884.7 1451.7,886.1 1453.4,886.2 1455.0,887.0 1456.6,886.5 1457.4,889.1 1458.3,889.2 1459.2,893.1 1460.0,893.2 1460.9,896.7 1461.7,899.9 1462.6,898.4 1463.4,901.6 1464.2,902.4 1465.0,903.1 1465.8,904.5 1466.6,907.3 1467.2,909.8 1467.9,910.5 1468.6,910.5 1469.2,912.6 1469.9,915.0 1470.6,918.1 1471.2,918.8 1471.9,920.5 1472.6,923.0 1473.2,923.4 1473.9,925.2 1474.6,926.7 1475.2,927.0 1475.9,930.7 1477.5,931.5 1479.1,932.8 1480.7,931.6 1482.3,932.8 1484.0,934.9 1485.8,934.8 1487.5,936.3 1489.2,934.8 1490.9,936.3 1492.6,936.2 1494.3,937.7 1495.9,937.7 1497.6,939.3 1499.3,940.4 1501.0,940.7 1502.6,939.1 1504.3,942.3 1506.0,942.5 1507.7,941.5 1509.5,941.9 1511.3,943.0 1513.1,943.7 1514.9,943.1 1516.6,942.3 1518.4,944.2 1520.2,944.3 1522.0,946.4 1523.8,943.2 1525.6,946.7 1527.4,946.1 1529.2,945.0 1531.0,946.3"/>
<polyline stroke="#1B73E5" points="193.5,1047.4 195.0,1042.3 196.5,1044.0 198.0,1042.1 199.6,1041.8 201.4,1042.2 203.2,1040.7 205.0,1042.5 206.8,1042.2 208.5,1045.4 210.1,1041.8 211.7,1040.5 213.3,1039.7 214.9,1038.6 216.4,1038.0 217.7,1039.8 219.1,1041.8 220.4,1042.4 221.7,1044.7 223.0,1044.9 224.4,1046.3 225.7,1048.9 227.2,1048.4 228.8,1046.8 230.5,1046.4 232.1,1046.3 233.8,1046.9 235.5,1044.2 237.0,1043.4 237.8,1042.9 238.5,1039.5 239.3,1038.4 240.0,1037.8 240.8,1035.9 241.5,1033.8 242.4,1033.4 243.9,1031.3 245.3,1035.9 246.7,1035.2 248.1,1035.6 249.5,1038.5 250.9,1040.1 252.3,1040.2 253.6,1040.8 255.0,1043.0 256.4,1043.4 257.6,1043.4 258.9,1041.6 260.2,1039.8 261.4,1039.9 262.6,1040.1 263.8,1040.8 264.9,1043.5 266.1,1044.9 267.1,1043.4 268.1,1041.4 269.1,1040.8 270.1,1036.8 271.1,1038.2 272.1,1038.2 273.0,1037.8 273.9,1040.9 274.9,1041.5 275.8,1044.6 276.7,1043.6 278.2,1043.9 279.7,1044.4 281.2,1043.9 282.8,1039.9 284.3,1040.5 285.8,1040.2 287.4,1038.4 288.9,1039.5 290.4,1036.0 291.9,1038.0 293.5,1037.7 295.0,1040.8 296.5,1040.5 298.0,1040.6 299.4,1038.1 300.7,1040.0 302.0,1038.0 303.4,1036.7 304.7,1035.9 306.0,1034.0 307.7,1033.2 309.4,1033.6 311.1,1034.1 312.9,1036.6 314.6,1034.6 315.9,1036.5 317.1,1038.1 318.3,1039.9 319.5,1041.6 320.7,1041.3 321.9,1042.2 323.6,1043.4 325.4,1044.1 327.1,1043.2 328.9,1042.3 330.3,1040.7 331.8,1040.2 333.2,1038.7 334.7,1038.5 336.2,1036.3 337.8,1037.8 339.5,1038.3 341.1,1039.6 342.8,1040.0 344.5,1042.7 346.1,1042.5 347.5,1041.4 348.8,1037.1 350.2,1037.4 351.5,1035.9 352.8,1035.7 354.2,1032.0 355.5,1033.9 356.8,1032.7 358.7,1030.5 360.5,1030.8 362.3,1031.0 364.0,1032.0 365.4,1033.6 366.9,1036.0 368.3,1035.0 369.7,1037.0 371.2,1036.5 372.5,1036.8 373.8,1034.7 375.2,1034.0 376.5,1030.6 377.9,1030.2 379.2,1028.5 380.5,1031.6 381.7,1032.1 383.0,1032.5 384.3,1033.7 385.6,1035.8 386.8,1036.0 388.1,1037.1 389.4,1039.6 390.8,1040.9 392.2,1037.4 393.7,1036.0 395.1,1034.4 396.6,1033.2 398.0,1033.8 399.4,1033.0 400.9,1031.1 402.3,1030.4 403.8,1029.3 405.4,1030.1 407.0,1029.4 408.6,1031.2 410.2,1032.5 411.8,1032.5 413.5,1033.6 415.1,1034.1 416.7,1035.3 418.3,1037.2 419.9,1036.3 421.6,1035.9 423.3,1036.1 425.0,1035.3 426.7,1035.6 428.4,1031.6 430.1,1033.6 431.7,1031.8 433.4,1032.0 434.9,1033.6 436.5,1034.8 438.0,1035.7 439.5,1035.8 440.9,1036.6 442.2,1033.6 443.4,1032.5 444.7,1032.1 446.0,1029.6 447.4,1031.2 449.0,1031.0 450.6,1032.9 452.2,1031.7 453.8,1032.2 455.4,1033.5 457.0,1034.9 458.6,1034.5 460.0,1034.4 461.4,1032.9 462.8,1033.2 464.1,1030.0 465.5,1030.4 466.9,1027.7 468.3,1026.3 469.7,1026.4 470.9,1027.2 472.2,1029.7 473.5,1031.8 474.8,1032.3 476.1,1033.9 477.3,1036.1 478.7,1034.7 480.2,1033.5 481.6,1032.0 483.0,1029.7 484.5,1030.8 485.9,1027.4 487.4,1028.5 488.8,1026.8 490.3,1026.8 491.7,1024.6 493.1,1025.1 494.5,1027.3 495.9,1027.6 497.3,1029.1 498.7,1030.4 500.1,1031.4 501.7,1032.1 503.4,1032.1 505.1,1033.4 506.8,1032.3 508.4,1034.7 509.8,1033.1 510.9,1033.8 512.0,1032.5 513.2,1028.2 514.3,1028.7 515.4,1027.0 516.5,1024.8 517.7,1024.8 518.8,1022.5 520.1,1020.8 521.8,1022.8 523.5,1023.6 525.1,1024.6 526.8,1024.1 528.4,1026.4 530.1,1027.3 531.3,1026.9 532.6,1028.6 533.9,1030.4 535.2,1031.2 536.5,1034.6 537.7,1034.4 539.1,1033.8 540.5,1032.9 541.9,1032.5 543.3,1033.5 544.8,1030.2 546.2,1029.3 547.6,1028.6 549.0,1027.0 550.5,1028.0 551.9,1024.3 553.3,1024.4 554.8,1023.5 556.3,1024.8 557.8,1024.2 559.4,1027.7 560.9,1027.0 562.5,1028.1 564.0,1028.1 565.5,1029.2 567.1,1031.3 568.6,1032.7 570.2,1033.1 572.0,1033.3 573.8,1032.6 575.6,1031.7 577.3,1032.2 579.1,1031.7 580.9,1030.9 582.5,1031.0 583.9,1030.3 585.2,1028.2 586.6,1026.4 587.9,1026.2 589.4,1026.6 591.0,1025.4 592.6,1026.3 594.3,1026.9 595.9,1028.9 597.6,1026.9 599.2,1029.6 600.9,1031.0 602.5,1030.0 604.2,1031.6 605.9,1030.2 607.6,1028.6 609.3,1028.7 611.0,1026.5 612.7,1026.8 614.4,1028.3 615.9,1026.4 617.3,1030.0 618.7,1029.4 620.1,1031.5 621.6,1031.8 623.0,1030.9 624.0,1032.0 624.9,1031.1 625.7,1028.3 626.5,1026.5 627.3,1026.4 628.1,1023.9 629.0,1021.5 630.5,1023.4 632.1,1025.7 633.6,1025.4 635.2,1027.6 636.7,1029.1 638.3,1028.0 640.1,1026.6 641.9,1026.1 643.6,1026.9 645.4,1027.3 647.2,1026.4 648.9,1026.3 650.7,1025.4 652.4,1026.5 654.2,1026.2 655.9,1026.7 657.7,1026.2 659.5,1026.4 661.2,1027.8 663.0,1027.6 664.7,1028.1 666.5,1029.5 668.3,1028.5 670.1,1030.9 671.8,1028.8 673.6,1027.1 675.4,1028.1 677.1,1027.2 678.8,1025.7 680.5,1026.7 682.2,1024.4 683.9,1021.8 685.6,1024.7 687.4,1022.9 689.1,1024.2 690.8,1021.7 692.0,1022.0 693.0,1025.9 694.0,1025.1 695.0,1027.7 696.0,1030.4 697.0,1030.7 698.0,1032.0 699.5,1032.1 701.1,1032.0 702.8,1029.8 704.4,1030.3 706.0,1029.6 707.7,1030.4 709.3,1027.3 711.1,1026.5 712.9,1028.0 714.7,1026.9 716.5,1027.6 718.3,1027.4 720.1,1028.4 721.9,1026.7 723.7,1027.2 725.3,1024.3 726.9,1025.0 728.5,1026.4 730.2,1023.6 731.8,1022.7 733.4,1021.5 734.8,1023.2 736.1,1024.1 737.4,1024.1 738.7,1027.1 739.9,1028.0 741.2,1029.7 742.9,1028.2 744.7,1030.0 746.5,1028.4 748.2,1027.5 750.0,1026.8 751.5,1026.1 753.1,1026.3 754.7,1024.4 756.3,1024.7 757.8,1023.3 759.4,1023.1 761.0,1021.8 762.5,1020.1 764.0,1017.4 765.5,1018.5 767.0,1017.9 768.6,1016.4 770.1,1015.8 771.6,1013.9 773.1,1013.0 774.7,1011.6 776.4,1013.3 778.2,1011.7 779.9,1010.7 781.7,1009.5 783.4,1010.1 785.2,1011.1 786.9,1009.8 788.6,1008.7 790.3,1011.3 791.9,1012.0 793.6,1012.3 795.3,1012.9 796.9,1013.9 798.6,1014.1 800.2,1015.0 801.7,1014.6 803.2,1017.6 804.7,1017.5 806.2,1020.1 807.7,1017.4 809.2,1020.9 810.7,1022.2 812.5,1021.0 814.3,1021.7 816.1,1022.0 817.9,1021.8 819.7,1020.8 821.5,1021.2 823.2,1022.4 824.7,1023.7 826.2,1023.7 827.6,1024.7 829.1,1025.9 830.6,1027.7 832.0,1026.8 833.5,1027.6 835.0,1030.0 836.6,1028.3 838.3,1028.1 840.0,1028.1 841.7,1027.8 843.4,1025.7 845.1,1026.8 846.7,1023.8 848.4,1025.2 850.1,1022.7 851.5,1023.6 852.9,1026.5 854.2,1026.8 855.6,1027.6 856.9,1029.1 858.2,1031.2 859.7,1031.6 861.5,1031.3 863.2,1032.0 865.0,1030.1 866.8,1030.0 868.5,1029.6 870.3,1031.1 872.0,1031.5 873.7,1032.3 875.5,1031.7 877.2,1032.1 878.9,1033.6 880.6,1033.0 882.3,1034.6 884.1,1035.0 885.9,1033.7 887.7,1034.2 889.5,1034.2 891.3,1035.9 893.0,1036.3 894.7,1033.3 896.4,1032.7 898.0,1029.9 899.7,1031.5 901.3,1030.5 902.6,1028.4 904.0,1028.8 905.3,1025.5 906.7,1025.5 908.0,1024.6 909.3,1022.2 910.9,1024.3 912.6,1025.1 914.3,1023.6 915.9,1024.2 917.6,1026.7 919.3,1026.8 921.0,1026.3 922.7,1027.6 924.4,1028.4 926.1,1028.9 927.9,1030.3 929.6,1030.3 931.4,1031.8 933.2,1031.6 935.0,1031.2 936.8,1031.7 938.6,1032.1 940.4,1031.7 942.1,1030.2 943.9,1032.2 945.7,1031.7 947.3,1032.5 948.9,1030.2 950.5,1029.7 952.0,1028.6 953.6,1028.9 955.1,1026.6 956.7,1025.4 958.3,1026.7 959.9,1026.9 961.5,1028.2 963.1,1028.9 964.6,1028.5 966.0,1029.0 967.5,1025.8 968.9,1025.1 970.4,1023.8 972.1,1024.5 973.9,1022.8 975.7,1023.3 977.5,1023.9 979.3,1024.4 981.0,1024.3 982.4,1025.1 983.7,1025.9 985.1,1028.3 986.6,1028.9 988.2,1026.9 989.7,1025.9 991.2,1025.1 992.8,1023.1 994.5,1024.3 996.1,1025.0 997.8,1026.1 999.5,1026.5 1001.2,1026.0 1002.9,1028.8 1004.6,1029.9 1006.3,1028.8 1007.8,1028.7 1009.4,1027.6 1010.9,1027.1 1012.5,1024.2 1014.0,1026.0 1015.4,1023.9 1016.5,1026.9 1017.6,1027.2 1018.7,1028.2 1019.8,1029.9 1020.9,1031.0 1022.1,1028.1 1023.3,1027.2 1024.5,1025.7 1025.7,1023.2 1026.9,1024.6 1028.5,1023.7 1030.3,1023.5 1032.0,1024.9 1033.8,1023.3 1035.6,1024.5 1037.3,1026.4 1039.1,1026.0 1040.9,1023.5 1042.7,1022.8 1044.4,1025.2 1046.2,1027.4 1047.5,1027.2 1048.8,1028.7 1050.1,1030.7 1051.4,1030.7 1052.8,1031.1 1054.3,1030.5 1055.7,1029.2 1057.2,1028.1 1058.7,1026.2 1060.2,1026.2 1061.7,1024.4 1063.3,1025.1 1064.9,1025.3 1066.4,1021.4 1068.0,1019.3 1069.5,1019.9 1071.1,1019.8 1072.7,1019.8 1074.1,1020.9 1075.6,1020.3 1077.1,1021.3 1078.5,1024.2 1080.0,1023.1 1081.5,1026.1 1083.0,1025.9 1084.4,1027.9 1086.0,1027.2 1087.7,1026.5 1089.3,1025.8 1090.9,1023.4 1092.5,1024.6 1094.1,1025.2 1095.7,1026.2 1097.3,1027.9 1099.0,1027.3 1100.5,1027.2 1101.6,1025.9 1102.8,1024.9 1104.0,1024.5 1105.1,1021.7 1106.7,1022.7 1108.4,1021.4 1110.2,1020.4 1111.9,1018.8 1113.6,1019.7 1115.3,1019.5 1117.1,1017.3 1118.8,1020.3 1120.6,1021.0 1122.4,1020.1 1124.2,1020.5 1125.9,1022.5 1127.5,1022.2 1129.1,1021.3 1130.6,1023.0 1132.2,1023.8 1133.7,1024.7 1135.3,1023.6 1136.8,1027.4 1138.3,1027.1 1139.9,1028.7 1141.4,1029.4 1143.0,1031.2 1144.5,1029.9 1145.9,1028.4 1147.3,1028.5 1148.8,1028.2 1150.2,1025.6 1152.0,1026.9 1153.7,1026.0 1155.5,1025.4 1157.3,1027.3 1159.1,1025.3 1160.9,1027.0 1162.7,1025.8 1164.5,1026.7 1166.3,1025.3 1168.1,1025.7 1169.6,1026.3 1171.0,1024.4 1172.4,1023.2 1173.9,1021.7 1175.3,1021.4 1176.8,1018.7 1178.2,1017.8 1179.5,1019.6 1180.9,1020.2 1182.2,1021.5 1183.5,1023.3 1184.9,1024.5 1186.2,1025.6 1187.7,1028.3 1189.4,1028.3 1191.1,1029.1 1192.8,1028.6 1194.5,1028.5 1196.2,1027.1 1197.9,1027.5 1199.6,1025.3 1201.3,1026.1 1203.0,1026.8 1204.7,1027.2 1206.3,1027.4 1207.9,1026.6 1209.5,1028.6 1211.1,1028.2 1212.8,1030.5 1214.5,1030.1 1216.3,1031.3 1218.0,1033.2 1219.8,1032.1 1221.5,1033.7 1223.2,1032.6 1224.8,1032.9 1226.4,1035.2 1228.0,1036.4 1229.6,1035.2 1231.1,1035.3 1232.7,1032.9 1234.2,1033.1 1235.7,1033.1 1237.2,1031.3 1238.9,1030.3 1240.7,1029.3 1242.5,1030.7 1244.3,1030.8 1246.0,1030.5 1247.8,1030.7 1249.5,1029.8 1251.2,1033.1 1252.9,1032.0 1254.7,1032.4 1256.3,1033.2 1257.6,1029.4 1259.0,1030.1 1260.3,1028.9 1261.7,1028.2 1263.1,1027.8 1264.6,1026.4 1266.4,1024.6 1268.2,1026.1 1269.9,1026.8 1271.7,1027.0 1272.9,1027.1 1273.9,1028.2 1275.0,1031.6 1276.1,1032.9 1277.1,1034.0 1278.5,1033.4 1280.3,1036.7 1282.1,1032.6 1283.9,1035.1 1285.7,1037.4 1287.5,1035.6 1289.3,1036.1 1291.1,1034.7 1292.8,1036.8 1294.6,1034.3 1296.4,1035.5 1298.2,1035.2 1300.0,1033.9 1301.8,1035.5 1303.6,1033.2 1305.4,1033.7 1307.2,1034.1 1309.0,1033.6 1310.7,1034.7 1312.4,1035.7 1314.1,1035.3 1315.8,1035.7 1317.4,1036.3 1319.2,1037.1 1320.9,1038.7 1322.6,1038.3 1324.3,1039.5 1326.0,1039.6 1327.7,1039.5 1329.4,1041.6 1331.1,1040.4 1332.9,1041.8 1334.6,1043.6 1336.3,1041.8 1338.1,1043.2 1339.8,1042.3 1341.5,1043.8 1343.3,1043.3 1345.0,1044.9 1346.8,1045.2 1348.5,1046.0 1350.3,1047.3 1352.1,1046.2 1353.9,1046.5 1355.7,1045.9 1357.5,1045.7 1359.3,1045.0 1361.1,1044.0 1362.9,1045.5 1364.7,1046.8 1366.5,1045.6 1368.3,1044.5 1370.0,1046.7 1371.4,1045.9 1372.9,1046.8 1374.3,1047.3 1375.8,1048.6 1377.2,1050.4 1378.9,1053.0 1380.6,1051.5 1382.3,1051.3 1384.1,1052.2 1385.8,1053.1 1387.5,1052.3 1388.6,1055.3 1389.8,1057.2 1390.9,1058.3 1392.2,1059.0 1393.8,1056.5 1395.4,1055.3 1397.0,1057.2 1398.7,1056.2 1400.3,1053.0 1401.9,1053.8 1403.5,1052.9 1404.8,1054.6 1406.1,1055.5 1407.5,1056.0 1408.8,1057.9 1410.2,1059.0 1411.5,1060.0 1412.8,1059.6 1414.4,1059.0 1416.2,1060.9 1418.0,1060.0 1419.8,1061.6 1421.6,1061.9 1423.4,1061.4 1425.2,1060.7 1427.0,1061.0 1428.8,1061.9 1430.6,1059.8 1432.3,1060.8 1434.0,1060.0 1435.7,1059.1 1437.5,1059.7 1439.2,1057.2 1440.8,1059.5 1442.3,1058.7 1443.9,1059.8 1445.4,1060.4 1447.0,1062.7 1448.5,1062.3 1450.1,1064.1 1451.7,1063.8 1453.5,1066.0 1455.3,1067.0 1457.1,1065.7 1458.8,1067.2 1460.6,1066.5 1462.4,1068.2 1464.2,1066.5 1466.0,1065.2 1467.5,1068.6 1468.6,1068.6 1469.7,1069.3 1470.7,1071.0 1471.8,1071.6 1472.8,1074.4 1473.9,1075.0 1475.0,1078.8 1476.4,1079.0 1478.1,1077.7 1479.7,1078.6 1481.3,1080.3 1482.9,1079.8 1484.6,1081.1 1486.3,1080.5 1488.0,1079.2 1489.7,1078.8 1491.3,1079.2 1493.1,1080.6 1494.8,1081.2 1496.5,1080.5 1498.2,1081.8 1499.9,1081.0 1501.6,1082.6 1503.3,1082.0 1504.6,1084.7 1506.0,1084.1 1507.3,1085.5 1508.7,1087.6 1510.0,1089.3 1511.5,1088.3 1513.2,1088.8 1515.0,1089.0 1516.8,1088.8 1518.5,1087.5 1520.3,1087.9 1521.9,1086.9 1523.3,1087.3 1524.8,1085.4 1526.2,1082.7 1527.7,1080.8 1529.1,1081.8"/>
</g>
<rect x="193.7" y="50.2" width="1337.3" height="1077.6" fill="none" stroke="#000" stroke-width="4"/>
<path d="M308.1,1127.8V1116.8 M423.5,1127.8V1106.8 M538.9,1127.8V1116.8 M654.4,1127.8V1106.8 M769.8,1127.8V1116.8 M885.2,1127.8V1106.8 M1000.6,1127.8V1116.8 M1116.1,1127.8V1106.8 M1231.5,1127.8V1116.8 M1346.9,1127.8V1106.8 M1462.3,1127.8V1116.8" stroke="#000" stroke-width="4" fill="none"/>
<text transform="translate(192.65,1205.10) scale(1.0,1.05)" font-size="70" text-anchor="middle">1100</text>
<text transform="translate(423.50,1205.10) scale(1.0,1.05)" font-size="70" text-anchor="middle">1200</text>
<text transform="translate(654.36,1205.10) scale(1.0,1.05)" font-size="70" text-anchor="middle">1300</text>
<text transform="translate(885.21,1205.10) scale(1.0,1.05)" font-size="70" text-anchor="middle">1400</text>
<text transform="translate(1116.07,1205.10) scale(1.0,1.05)" font-size="70" text-anchor="middle">1500</text>
<text transform="translate(1346.92,1205.10) scale(1.0,1.05)" font-size="70" text-anchor="middle">1600</text>
<line x1="208" y1="98.0" x2="313" y2="98.0" stroke="#545454" stroke-width="7" stroke-linecap="round"/>
<line x1="208" y1="160.4" x2="313" y2="160.4" stroke="#F94545" stroke-width="7" stroke-linecap="round"/>
<line x1="208" y1="223.0" x2="313" y2="223.0" stroke="#1B73E5" stroke-width="7" stroke-linecap="round"/>
<text transform="translate(322.80,112.20) scale(1.0,1.04)" font-size="45.75">10</text>
<text transform="translate(375.50,93.00) scale(1.0,1.04)" font-size="30">&#8722;6</text>
<text transform="translate(422.15,112.20) scale(1.0,1.04)" font-size="45.75">M on Ag-Cu substrate (Cu nanoarray)</text>
<text transform="translate(322.80,174.90) scale(1.0,1.04)" font-size="45.75">10</text>
<text transform="translate(375.50,155.70) scale(1.0,1.04)" font-size="30">&#8722;6</text>
<text transform="translate(422.15,174.90) scale(1.0,1.04)" font-size="45.75">M on Ag-Cu substrate (Cu foil)</text>
<text transform="translate(322.80,237.00) scale(1.0,1.04)" font-size="45.75">10</text>
<text transform="translate(375.50,217.80) scale(1.0,1.04)" font-size="30">&#8722;2</text>
<text transform="translate(422.15,237.00) scale(1.0,1.04)" font-size="45.75">M on glass</text>
<path d="M1246,71H1268.5M1257,71V167.3M1246,167.3H1268.5" stroke="#000" stroke-width="4" fill="none"/>
<text transform="translate(1282.20,135.10) scale(1.0,1.04)" font-size="50.7">1000 (a.u.)</text>
<text transform="translate(232.30,506.50) rotate(90) scale(1.0,1.07)" font-size="49">1123</text>
<text transform="translate(359.10,485.80) rotate(90) scale(1.0,1.07)" font-size="49">1180</text>
<text transform="translate(652.10,487.60) rotate(90) scale(1.0,1.07)" font-size="49">1307</text>
<text transform="translate(773.80,384.10) rotate(90) scale(1.0,1.07)" font-size="49">1357</text>
<text transform="translate(1109.50,472.30) rotate(90) scale(1.0,1.07)" font-size="49">1503</text>
<text transform="translate(1264.20,572.20) rotate(90) scale(1.0,1.07)" font-size="49">1570</text>
<text transform="translate(1432.90,598.40) rotate(90) scale(1.0,1.07)" font-size="49">1645</text>
<text transform="translate(543.60,1325.70) scale(1.0,1.04)" font-size="70.6" font-weight="bold">Raman Shift (cm</text>
<text transform="translate(1102.10,1294.50) scale(1.03,1.04)" font-size="45">&#8722;</text>
<text transform="translate(1131.30,1295.80) scale(1.0,1.04)" font-size="45">1</text>
<text transform="translate(1158.10,1325.20) scale(0.87,0.974)" font-size="70.3" font-weight="bold">)</text>
<text transform="translate(105.50,916.00) rotate(-90) scale(1.0,1.04)" font-size="70.3" font-weight="bold">Raman intensity (a.u.)</text>
</svg></body></html>
